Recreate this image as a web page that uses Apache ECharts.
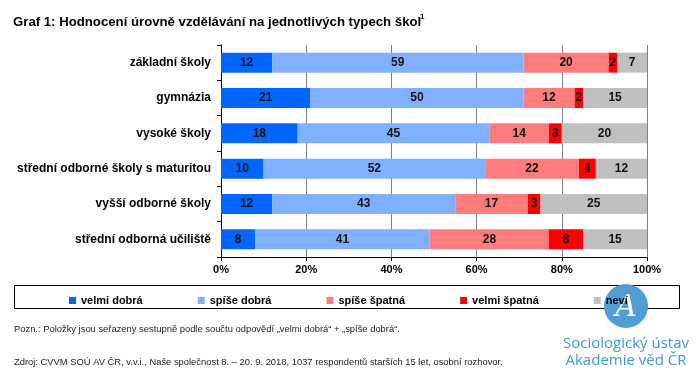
<!DOCTYPE html>
<html>
<head>
<meta charset="utf-8">
<script src="https://cdn.jsdelivr.net/npm/echarts@6/dist/echarts.min.js"></script>
<style>
  html, body { margin: 0; padding: 0; background: #fff; }
  #chart { width: 696px; height: 377px; }
</style>
</head>
<body>
<div id="chart"></div>
<script>
// kategorie (typy škol), shora dolů
const categories = ['základní školy', 'gymnázia', 'vysoké školy', 'střední odborné školy s maturitou', 'vyšší odborné školy', 'střední odborná učiliště'];
const seriesNames = ['velmi dobrá', 'spíše dobrá', 'spíše špatná', 'velmi špatná', 'neví'];
const velmiDobra = [12, 21, 18, 10, 12, 8];
const spiseDobra = [59, 50, 45, 52, 43, 41];
const spiseSpatna = [20, 12, 14, 22, 17, 28];
const velmiSpatna = [2, 2, 3, 4, 3, 8];
const nevi = [7, 15, 20, 12, 25, 15];
const xTicks = [0, 20, 40, 60, 80, 100];

const colors = ['#0066ff', '#80b0ff', '#ff7c7c', '#ff0000', '#c0c0c0'];
const values = [velmiDobra, spiseDobra, spiseSpatna, velmiSpatna, nevi];

const chart = echarts.init(document.getElementById('chart'));

const font = 'Liberation Sans, Arial, sans-serif';

chart.setOption({
  animation: false,
  color: colors,
  textStyle: { fontFamily: font },
  grid: { left: 221, right: 49, top: 45, bottom: 120, containLabel: false },
  xAxis: {
    type: 'value',
    min: 0,
    max: 100,
    interval: 20,
    axisLine: { show: true, lineStyle: { color: '#000', width: 1 } },
    axisTick: { show: true, length: 4, lineStyle: { color: '#000' } },
    axisLabel: {
      color: '#000', fontWeight: 'bold', fontSize: 11, margin: 7,
      formatter: v => xTicks.indexOf(v) >= 0 ? v + '%' : ''
    },
    splitLine: { show: true, lineStyle: { color: '#808080', width: 1 } }
  },
  yAxis: {
    type: 'category',
    inverse: true,
    data: categories,
    axisLine: { show: true, lineStyle: { color: '#000', width: 1 } },
    axisTick: { show: true, length: 4, lineStyle: { color: '#000' } },
    axisLabel: { color: '#000', fontWeight: 'bold', fontSize: 12, margin: 10 }
  },
  legend: {
    left: 64,
    top: 290,
    width: 620,
    z: 20,
    itemWidth: 7,
    itemHeight: 7,
    itemGap: 55,
    icon: 'rect',
    textStyle: { color: '#000', fontWeight: 'bold', fontSize: 11, fontFamily: font },
    data: seriesNames.map(n => n === 'velmi špatná' ? { name: n, textStyle: { width: 76 } } : n)
  },
  series: seriesNames.map((name, i) => ({
    name: name,
    type: 'bar',
    stack: 'total',
    barWidth: 20,
    data: values[i],
    label: {
      show: true,
      position: 'inside',
      color: '#111',
      fontWeight: 'bold',
      fontSize: 12,
      fontFamily: font
    }
  })),
  graphic: [
    {
      type: 'text', left: 13, top: 16,
      style: { text: 'Graf 1: Hodnocení úrovně vzdělávání na jednotlivých typech škol', font: 'bold 13.2px ' + font, fill: '#000' }
    },
    {
      type: 'text', left: 420, top: 13,
      style: { text: '1', font: 'bold 8px ' + font, fill: '#000' }
    },
    {
      type: 'rect', z: -1,
      shape: { x: 14.5, y: 285.5, width: 665, height: 23 },
      style: { fill: 'none', stroke: '#000', lineWidth: 1 }
    },
    {
      type: 'text', left: 14, top: 325,
      style: { text: 'Pozn.: Položky jsou seřazeny sestupně podle součtu odpovědí „velmi dobrá“ + „spíše dobrá“.', font: '9.4px ' + font, fill: '#222' }
    },
    {
      type: 'text', left: 14, top: 358,
      style: { text: 'Zdroj: CVVM SOÚ AV ČR, v.v.i., Naše společnost 8. – 20. 9. 2018, 1037 respondentů starších 15 let, osobní rozhovor.', font: '9.4px ' + font, fill: '#222' }
    },
    {
      type: 'circle', z: 1,
      shape: { cx: 626, cy: 306, r: 22 },
      style: { fill: '#4f9fd6' }
    },
    {
      type: 'text', z: 2, x: 626, y: 308,
      style: { text: 'A', font: 'italic 30px DejaVu Serif, serif', fill: '#fff', align: 'center', verticalAlign: 'middle' }
    },
    {
      type: 'text', z: 2, x: 626, y: 344,
      style: { text: 'Sociologický ústav', font: '15px Open Sans, Noto Sans, sans-serif', fill: '#3f98d2', align: 'center', verticalAlign: 'middle' }
    },
    {
      type: 'text', z: 2, x: 626, y: 361,
      style: { text: 'Akademie věd ČR', font: '15px Open Sans, Noto Sans, sans-serif', fill: '#3f98d2', align: 'center', verticalAlign: 'middle' }
    }
  ]
});
</script>
</body>
</html>
